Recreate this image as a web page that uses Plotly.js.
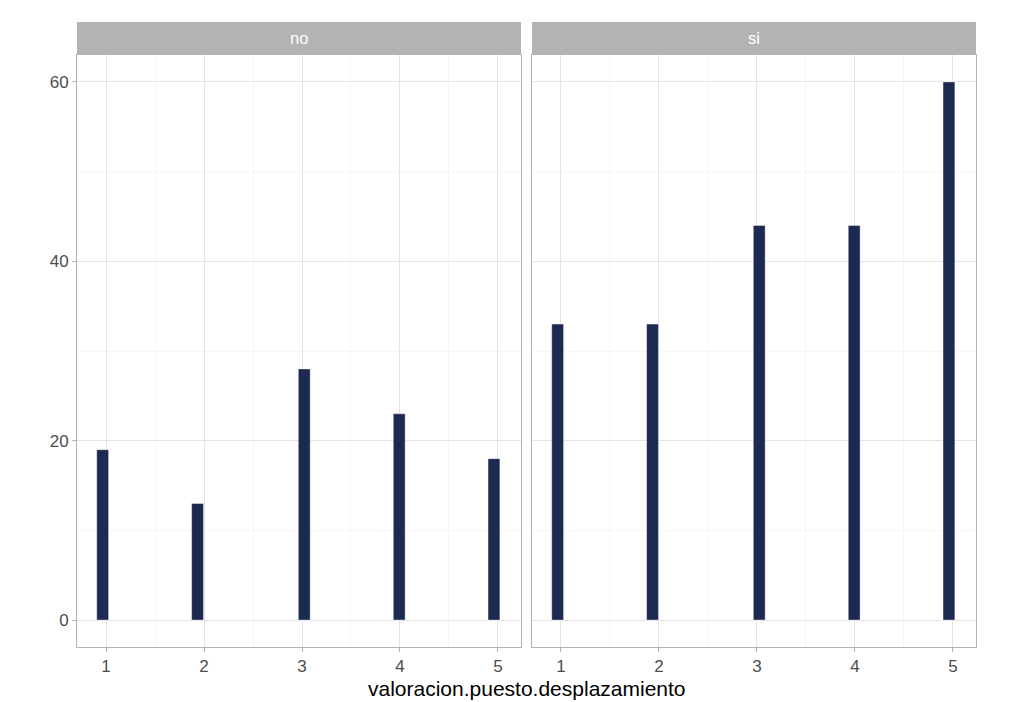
<!DOCTYPE html>
<html>
<head>
<meta charset="utf-8">
<script src="https://cdn.plot.ly/plotly-3.0.1.min.js"></script>
<style>
  html, body { margin: 0; padding: 0; background: white; }
  #grafico { width: 1024px; height: 702px; }
</style>
</head>
<body>
<div id="grafico"></div>
<script>
// centros de los bins del histograma (valoracion.puesto.desplazamiento)
var centros = [0.966, 1.934, 3.023, 3.992, 4.959];
var conteo_no = [19, 13, 28, 23, 18];
var conteo_si = [33, 33, 44, 44, 60];
var paneles = ['no', 'si'];

var colorBarra = '#1c2951';
var anchoBin = 0.121;

var traza_no = {
    x: centros,
    y: conteo_no,
    type: 'bar',
    width: anchoBin,
    xaxis: 'x',
    yaxis: 'y',
    marker: {
        color: colorBarra,
        line: { color: 'rgba(255,255,255,0.7)', width: 0.6 }
    },
    hoverinfo: 'x+y',
    showlegend: false
};

var traza_si = {
    x: centros,
    y: conteo_si,
    type: 'bar',
    width: anchoBin,
    xaxis: 'x2',
    yaxis: 'y2',
    marker: {
        color: colorBarra,
        line: { color: 'rgba(255,255,255,0.7)', width: 0.6 }
    },
    hoverinfo: 'x+y',
    showlegend: false
};

var familia = 'Liberation Sans, Arial, sans-serif';
var fuenteTicks = { family: familia, size: 17, color: '#4d4d4d' };

function ejeX(dominio, ancla) {
    return {
        domain: dominio,
        anchor: ancla,
        range: [0.704, 5.235],
        tickmode: 'array',
        tickvals: [1, 2, 3, 4, 5],
        ticktext: ['1', '2', '3', '4', '5'],
        ticks: 'outside',
        ticklen: 4,
        tickcolor: '#b3b3b3',
        tickfont: fuenteTicks,
        showgrid: true,
        gridcolor: '#e3e3e3',
        gridwidth: 1,
        minor: { tick0: 0.5, dtick: 1, showgrid: true, gridcolor: '#f0f0f0', gridwidth: 0.6 },
        zeroline: false,
        showline: true,
        mirror: true,
        linecolor: '#b3b3b3',
        linewidth: 1,
        fixedrange: true
    };
}

function ejeY(ancla, etiquetas) {
    return {
        domain: [0, 0.9472],
        anchor: ancla,
        range: [-3, 63],
        tickmode: 'array',
        tickvals: [0, 20, 40, 60],
        ticktext: ['0', '20', '40', '60'],
        ticks: etiquetas ? 'outside' : '',
        ticklen: 4,
        tickcolor: '#b3b3b3',
        showticklabels: etiquetas,
        tickfont: fuenteTicks,
        showgrid: true,
        gridcolor: '#e3e3e3',
        gridwidth: 1,
        minor: { tick0: 10, dtick: 20, showgrid: true, gridcolor: '#f0f0f0', gridwidth: 0.6 },
        zeroline: false,
        showline: true,
        mirror: true,
        linecolor: '#b3b3b3',
        linewidth: 1,
        fixedrange: true
    };
}

var domIzq = [0, 0.4939];
var domDer = [0.5061, 1];

var layout = {
    width: 1024,
    height: 702,
    margin: { l: 77, r: 48, t: 22, b: 55, pad: 0 },
    paper_bgcolor: 'white',
    plot_bgcolor: 'white',
    bargap: 0,
    xaxis: ejeX(domIzq, 'y'),
    yaxis: ejeY('x', true),
    xaxis2: ejeX(domDer, 'y2'),
    yaxis2: ejeY('x2', false),
    // tiras de las facetas
    shapes: [
        { type: 'rect', xref: 'paper', yref: 'paper', x0: domIzq[0], x1: domIzq[1], y0: 0.9472, y1: 1,
          fillcolor: '#b3b3b3', line: { width: 0 } },
        { type: 'rect', xref: 'paper', yref: 'paper', x0: domDer[0], x1: domDer[1], y0: 0.9472, y1: 1,
          fillcolor: '#b3b3b3', line: { width: 0 } }
    ],
    annotations: [
        { text: paneles[0], xref: 'paper', yref: 'paper', x: (domIzq[0] + domIzq[1]) / 2, y: 0.9736,
          showarrow: false, xanchor: 'center', yanchor: 'middle',
          font: { family: familia, size: 16.5, color: 'white' } },
        { text: paneles[1], xref: 'paper', yref: 'paper', x: (domDer[0] + domDer[1]) / 2, y: 0.9736,
          showarrow: false, xanchor: 'center', yanchor: 'middle',
          font: { family: familia, size: 16.5, color: 'white' } },
        { text: 'valoracion.puesto.desplazamiento', xref: 'paper', yref: 'paper', x: 0.5, y: -0.066,
          showarrow: false, xanchor: 'center', yanchor: 'middle',
          font: { family: familia, size: 21, color: 'black' } }
    ]
};

Plotly.newPlot('grafico', [traza_no, traza_si], layout, { displayModeBar: false, staticPlot: true });
</script>
</body>
</html>
